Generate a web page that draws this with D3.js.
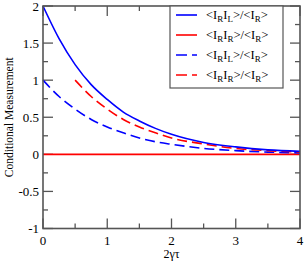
<!DOCTYPE html>
<html>
<head>
<meta charset="utf-8">
<script src="https://cdn.jsdelivr.net/npm/d3@7"></script>
<style>
body { margin: 0; background: #fff; }
svg { display: block; }
svg text { font-family: "Liberation Serif", "Times New Roman", serif; }
</style>
</head>
<body>
<div id="chart"></div>
<script>
// valori
var xs = [0, 0.25, 0.5, 0.75, 1, 1.25, 1.5, 1.75, 2, 2.5, 3, 3.5, 4];
var blueSolid = [2, 1.56, 1.21, 0.94, 0.74, 0.57, 0.45, 0.35, 0.27, 0.16, 0.10, 0.06, 0.04];
var blueDashed = [1, 0.78, 0.61, 0.47, 0.37, 0.29, 0.22, 0.17, 0.135, 0.08, 0.05, 0.03, 0.02];
var redDashedX = [0.5, 0.75, 1, 1.25, 1.5, 1.75, 2, 2.5, 3, 3.5, 4];
var redDashed = [1, 0.78, 0.61, 0.47, 0.37, 0.29, 0.22, 0.14, 0.08, 0.05, 0.03];
var redSolidX = [0, 4];
var redSolid = [0, 0];
var xTicks = [0, 1, 2, 3, 4];
var yTicks = [-1, -0.5, 0, 0.5, 1, 1.5, 2];
var legendLabels = [["L", "R"], ["R", "R"], ["L", "R"], ["R", "R"]];

var width = 305, height = 262;
// margini del riquadro (niente "top": e' riservato da window)
var pLeft = 43, pRight = 300, pTop = 6, pBottom = 228.5;

var svg = d3.select("#chart").append("svg")
            .attr("width", width)
            .attr("height", height);

var x = d3.scaleLinear().domain([0, 4]).range([pLeft, pRight]);
var y = d3.scaleLinear().domain([-1, 2]).range([pBottom, pTop]);

var frame = "#555";

// tick minori e maggiori su tutti e quattro i lati
var xMinor = d3.range(0, 4.01, 0.5);
var yMinor = d3.range(-1, 2.01, 0.25);
var gTicks = svg.append("g").attr("stroke", frame).attr("stroke-width", 1.3);

xMinor.forEach(function(v) {
    var len = Math.abs(v - Math.round(v)) < 1e-6 ? 10 : 5;
    gTicks.append("line").attr("x1", x(v)).attr("x2", x(v)).attr("y1", pBottom).attr("y2", pBottom - len);
    gTicks.append("line").attr("x1", x(v)).attr("x2", x(v)).attr("y1", pTop).attr("y2", pTop + len);
});
yMinor.forEach(function(v) {
    var len = Math.abs(v * 2 - Math.round(v * 2)) < 1e-6 ? 10 : 5;
    gTicks.append("line").attr("y1", y(v)).attr("y2", y(v)).attr("x1", pLeft).attr("x2", pLeft + len);
    gTicks.append("line").attr("y1", y(v)).attr("y2", y(v)).attr("x1", pRight).attr("x2", pRight - len);
});

// etichette assi
svg.append("g").selectAll("text").data(xTicks).enter().append("text")
   .attr("x", function(d) { return x(d); })
   .attr("y", 245)
   .attr("text-anchor", "middle")
   .attr("font-size", 13)
   .text(function(d) { return d; });

svg.append("g").selectAll("text").data(yTicks).enter().append("text")
   .attr("x", 39)
   .attr("y", function(d) { return y(d) + 4.5; })
   .attr("text-anchor", "end")
   .attr("font-size", 13)
   .text(function(d) { return d; });

svg.append("text")
   .attr("x", x(2))
   .attr("y", 258)
   .attr("text-anchor", "middle")
   .attr("font-size", 12)
   .text("2γτ");

svg.append("text")
   .attr("transform", "translate(13," + y(0.5) + ") rotate(-90)")
   .attr("text-anchor", "middle")
   .attr("font-size", 11.5)
   .text("Conditional Measurement");

// curve
var line = d3.line()
             .x(function(d) { return x(d[0]); })
             .y(function(d) { return y(d[1]); })
             .curve(d3.curveMonotoneX);

var series = [
    { xv: redSolidX, yv: redSolid, color: "#ff0000", dash: null },
    { xv: xs, yv: blueDashed, color: "#0000ff", dash: "10,5" },
    { xv: redDashedX, yv: redDashed, color: "#ff0000", dash: "10,5" },
    { xv: xs, yv: blueSolid, color: "#0000ff", dash: null }
];

svg.append("g").selectAll("path").data(series).enter().append("path")
   .attr("fill", "none")
   .attr("stroke", function(d) { return d.color; })
   .attr("stroke-width", 1.6)
   .attr("stroke-dasharray", function(d) { return d.dash; })
   .attr("d", function(d) { return line(d.xv.map(function(v, i) { return [v, d.yv[i]]; })); });

// cornice
svg.append("rect")
   .attr("x", pLeft).attr("y", pTop)
   .attr("width", pRight - pLeft).attr("height", pBottom - pTop)
   .attr("fill", "none")
   .attr("stroke", frame)
   .attr("stroke-width", 1.6);

// legenda
var leg = svg.append("g");
leg.append("rect")
   .attr("x", 170).attr("y", pTop)
   .attr("width", 113).attr("height", 82)
   .attr("fill", "#fff")
   .attr("stroke", frame)
   .attr("stroke-width", 1.2);

var legStyle = [
    { color: "#0000ff", dash: null },
    { color: "#ff0000", dash: null },
    { color: "#0000ff", dash: "11,5" },
    { color: "#ff0000", dash: "11,5" }
];

legendLabels.forEach(function(lab, i) {
    var yy = 15 + i * 20;
    leg.append("line")
       .attr("x1", 176).attr("x2", 197)
       .attr("y1", yy).attr("y2", yy)
       .attr("stroke", legStyle[i].color)
       .attr("stroke-width", 1.6)
       .attr("stroke-dasharray", legStyle[i].dash);
    var t = leg.append("text")
               .attr("x", 206)
               .attr("y", yy + 3.5)
               .attr("font-size", 12.5);
    t.append("tspan").text("<I");
    t.append("tspan").attr("font-size", 9).attr("dy", 3).text("R");
    t.append("tspan").attr("dy", -3).text("I");
    t.append("tspan").attr("font-size", 9).attr("dy", 3).text(lab[0]);
    t.append("tspan").attr("dy", -3).text(">/<I");
    t.append("tspan").attr("font-size", 9).attr("dy", 3).text(lab[1]);
    t.append("tspan").attr("dy", -3).text(">");
});
</script>
</body>
</html>
